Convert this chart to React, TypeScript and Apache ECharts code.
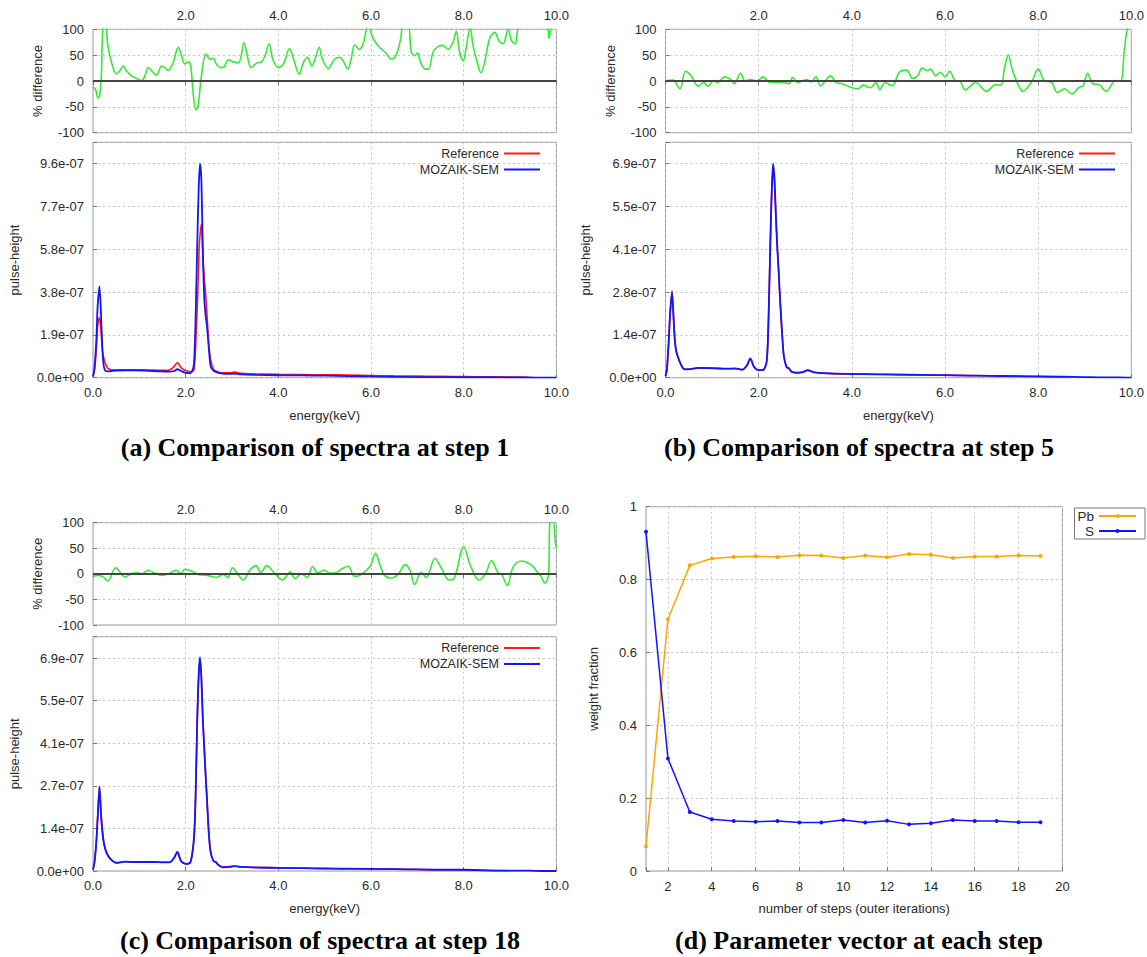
import React, { useEffect, useRef } from 'react';
import * as echarts from 'echarts';

// ---------- spectra (pulse-height in units of 1e-7) ----------
const energyKeV = [0, 0.03, 0.07, 0.1, 0.14, 0.17, 0.2, 0.23, 0.27, 0.32, 0.4, 0.5, 0.7, 0.9, 1.1, 1.3, 1.5, 1.65, 1.75, 1.82, 1.9, 2.0, 2.1, 2.17, 2.2, 2.22, 2.25, 2.27, 2.29, 2.31, 2.34, 2.37, 2.4, 2.43, 2.46, 2.5, 2.54, 2.6, 2.65, 2.7, 2.8, 2.95, 3.05, 3.2, 3.5, 4.0, 4.5, 5.0, 5.5, 6.0, 6.5, 7.0, 7.5, 8.0, 8.5, 9.0, 9.4, 9.7, 10.0];

const refStep1 = [0.05, 0.3, 1.2, 2.3, 2.7, 2.2, 1.3, 0.9, 0.62, 0.42, 0.36, 0.36, 0.36, 0.36, 0.35, 0.34, 0.33, 0.35, 0.5, 0.68, 0.45, 0.32, 0.27, 0.3, 0.8, 1.7, 3.2, 4.4, 5.8, 6.4, 6.9, 5.5, 4.5, 3.8, 2.8, 1.5, 0.8, 0.38, 0.3, 0.26, 0.22, 0.22, 0.25, 0.2, 0.17, 0.15, 0.14, 0.13, 0.12, 0.1, 0.08, 0.07, 0.06, 0.05, 0.04, 0.03, 0.02, null, null];
const mozStep1 = [0.05, 0.4, 1.6, 3.2, 4.1, 3.0, 1.4, 0.55, 0.3, 0.28, 0.3, 0.32, 0.33, 0.33, 0.32, 0.3, 0.28, 0.27, 0.3, 0.38, 0.3, 0.22, 0.2, 0.5, 1.6, 3.2, 6.0, 7.7, 9.0, 9.6, 8.8, 5.7, 3.6, 2.8, 2.3, 1.3, 0.5, 0.32, 0.26, 0.22, 0.18, 0.17, 0.18, 0.15, 0.13, 0.11, 0.1, 0.09, 0.07, 0.06, 0.04, 0.03, 0.03, 0.02, 0.02, 0.01, 0.01, 0.0, 0.0];

const refStep5 = [0.05, 0.25, 1.2, 2.1, 2.8, 2.05, 1.25, 0.88, 0.66, 0.47, 0.28, 0.28, 0.31, 0.31, 0.3, 0.29, 0.29, 0.26, 0.4, 0.62, 0.35, 0.24, 0.25, 0.5, 1.3, 2.4, 4.3, 5.5, 6.3, 6.7, 6.3, 5.2, 4.2, 3.4, 2.5, 1.5, 0.7, 0.34, 0.3, 0.2, 0.16, 0.18, 0.24, 0.17, 0.14, 0.12, 0.11, 0.1, 0.09, 0.08, 0.07, 0.06, 0.05, 0.04, 0.03, null, null, null, null];
const mozStep5 = [0.05, 0.25, 1.2, 2.1, 2.75, 2.0, 1.2, 0.85, 0.65, 0.46, 0.27, 0.27, 0.32, 0.31, 0.3, 0.29, 0.3, 0.26, 0.4, 0.62, 0.35, 0.24, 0.25, 0.5, 1.3, 2.4, 4.3, 5.5, 6.4, 6.9, 6.4, 5.2, 4.2, 3.4, 2.5, 1.5, 0.7, 0.34, 0.3, 0.2, 0.16, 0.18, 0.24, 0.17, 0.14, 0.12, 0.11, 0.1, 0.09, 0.08, 0.07, 0.06, 0.05, 0.04, 0.03, 0.02, 0.01, 0.01, 0.0];

const refStep18 = [0.05, 0.25, 0.9, 1.7, 2.72, 1.95, 1.35, 0.97, 0.7, 0.52, 0.36, 0.27, 0.3, 0.29, 0.29, 0.29, 0.28, 0.28, 0.42, 0.62, 0.32, 0.23, 0.27, 0.9, 1.7, 2.8, 4.9, 5.9, 6.5, 6.8, 6.2, 4.9, 4.0, 3.1, 2.3, 1.2, 0.6, 0.32, 0.29, 0.2, 0.13, 0.14, 0.16, 0.13, 0.12, 0.1, 0.09, 0.08, 0.08, 0.07, 0.06, 0.05, 0.04, 0.04, 0.02, 0.01, null, null, null];
const mozStep18 = [0.05, 0.25, 0.9, 1.7, 2.72, 1.9, 1.3, 0.93, 0.68, 0.5, 0.35, 0.26, 0.3, 0.29, 0.29, 0.29, 0.28, 0.28, 0.42, 0.62, 0.32, 0.23, 0.27, 0.9, 1.7, 2.8, 4.9, 5.9, 6.6, 6.9, 6.2, 4.9, 4.0, 3.1, 2.3, 1.2, 0.6, 0.32, 0.29, 0.2, 0.12, 0.13, 0.16, 0.13, 0.11, 0.1, 0.09, 0.08, 0.07, 0.07, 0.06, 0.05, 0.04, 0.04, 0.02, 0.01, 0.01, 0.0, 0.0];

// y-axis tick steps of the three spectra panels (units of 1e-7)
const specTickStep = [1.92, 1.38, 1.374];

// ---------- % difference ----------
const diffEnergyStep1 = [0, 0.05, 0.11, 0.144, 0.18, 0.216, 0.27, 0.32, 0.4, 0.5, 0.58, 0.65, 0.72, 0.83, 0.94, 1.05, 1.12, 1.19, 1.26, 1.37, 1.48, 1.55, 1.62, 1.73, 1.84, 1.91, 1.98, 2.06, 2.11, 2.16, 2.22, 2.27, 2.34, 2.44, 2.53, 2.6, 2.66, 2.74, 2.81, 2.92, 3.03, 3.14, 3.26, 3.33, 3.41, 3.54, 3.64, 3.71, 3.8, 3.88, 4.0, 4.11, 4.24, 4.33, 4.45, 4.54, 4.63, 4.72, 4.79, 4.88, 4.95, 5.08, 5.21, 5.33, 5.4, 5.5, 5.57, 5.65, 5.74, 5.83, 5.9, 5.95, 6.03, 6.16, 6.3, 6.44, 6.55, 6.64, 6.69, 6.8, 6.87, 6.94, 7.0, 7.07, 7.17, 7.24, 7.34, 7.45, 7.55, 7.66, 7.77, 7.84, 7.91, 7.99, 8.06, 8.14, 8.2, 8.3, 8.37, 8.45, 8.56, 8.67, 8.76, 8.85, 8.96, 9.03, 9.11, 9.2, 9.5, 9.8, 9.84, 9.9, 10.0];
const diffStep1 = [-13, -15, -33, -29, 10, 105, 110, 69, 36, 14, 20, 29, 20, 10, 5, 1, 10, 26, 20, 11, 29, 26, 20, 36, 65, 49, 33, 37, 29, -23, -56, -46, 10, 52, 42, 44, 33, 26, 26, 41, 37, 35, 74, 49, 26, 35, 37, 48, 72, 42, 26, 33, 63, 42, 13, 36, 46, 29, 42, 65, 42, 24, 42, 46, 39, 23, 42, 70, 61, 72, 100, 106, 85, 67, 56, 42, 52, 82, 105, 106, 56, 49, 54, 36, 23, 23, 56, 67, 69, 61, 75, 96, 56, 39, 69, 104, 69, 33, 16, 36, 82, 94, 78, 72, 100, 78, 72, 105, 110, 105, 83, 105, 110];

const diffEnergyStep5 = [0, 0.16, 0.31, 0.43, 0.55, 0.7, 0.82, 0.91, 1.04, 1.11, 1.27, 1.4, 1.48, 1.61, 1.71, 1.83, 1.95, 2.1, 2.22, 2.53, 2.65, 2.73, 2.83, 3.04, 3.12, 3.23, 3.33, 3.43, 3.54, 3.66, 3.78, 3.97, 4.13, 4.24, 4.4, 4.52, 4.6, 4.71, 4.87, 5.02, 5.18, 5.3, 5.41, 5.51, 5.61, 5.69, 5.8, 5.9, 6.0, 6.1, 6.23, 6.31, 6.43, 6.66, 6.89, 7.09, 7.2, 7.28, 7.36, 7.44, 7.55, 7.67, 7.86, 8.0, 8.14, 8.28, 8.41, 8.57, 8.72, 8.88, 8.96, 9.06, 9.17, 9.31, 9.46, 9.66, 9.77, 9.85, 9.91, 9.97, 10.0];
const diffStep5 = [1, 2, -15, 19, 10, -10, -3, -10, 1, -3, 8, 3, -5, 15, 0, 3, 0, 8, -2, -3, -5, 7, -3, 3, -2, 8, -10, 0, 10, -3, -5, -12, -15, -8, -13, -3, -17, -3, -9, 17, 21, 5, 10, 25, 20, 23, 10, 17, 8, 19, 0, 0, -17, -3, -20, -7, -8, 27, 50, 23, -3, -20, -1, 23, 0, -2, -22, -15, -25, -12, -10, 15, -5, -7, -20, 1, 0, 60, 100, 110, 115];

const diffEnergyStep18 = [0, 0.1, 0.2, 0.32, 0.49, 0.69, 0.85, 0.97, 1.04, 1.19, 1.32, 1.48, 1.63, 1.79, 1.89, 1.99, 2.14, 2.26, 2.46, 2.66, 2.81, 2.91, 3.01, 3.13, 3.24, 3.4, 3.52, 3.62, 3.75, 3.91, 4.09, 4.25, 4.36, 4.5, 4.62, 4.74, 4.85, 4.99, 5.13, 5.25, 5.37, 5.51, 5.64, 5.76, 5.92, 5.99, 6.1, 6.19, 6.29, 6.43, 6.58, 6.74, 6.84, 6.94, 7.08, 7.19, 7.38, 7.53, 7.68, 7.8, 8.0, 8.15, 8.33, 8.47, 8.6, 8.74, 8.82, 8.94, 9.07, 9.25, 9.41, 9.49, 9.59, 9.67, 9.75, 9.83, 9.86, 9.92, 9.98, 10.0];
const diffStep18 = [-5, -3, -5, -14, 12, -6, 1, 2, -1, 7, 2, -3, 0, 7, 1, 9, 5, -1, -3, -7, -1, -7, 12, -1, -12, 9, 16, 2, 16, 2, -12, 4, -9, 0, -7, 14, 2, 7, 1, 2, 10, 15, -5, -3, 9, 16, 40, 18, -3, -8, -1, 18, 7, -21, 3, -7, 30, 9, -12, -8, 53, 15, -12, 0, 26, 2, -1, -23, 14, 25, 20, 15, 3, -5, -18, -1, 105, 110, 60, 50];

// ---------- parameter vector ----------
const steps = [1, 2, 3, 4, 5, 6, 7, 8, 9, 10, 11, 12, 13, 14, 15, 16, 17, 18, 19];
const pbFraction = [0.067, 0.691, 0.839, 0.858, 0.862, 0.864, 0.862, 0.867, 0.866, 0.859, 0.866, 0.861, 0.87, 0.868, 0.859, 0.863, 0.863, 0.866, 0.865];
const sFraction = [0.931, 0.309, 0.162, 0.142, 0.137, 0.135, 0.137, 0.133, 0.133, 0.14, 0.133, 0.138, 0.128, 0.131, 0.14, 0.137, 0.137, 0.134, 0.134];

const captions = [
  '(a) Comparison of spectra at step 1',
  '(b) Comparison of spectra at step 5',
  '(c) Comparison of spectra at step 18',
  '(d) Parameter vector at each step',
];

const pair = (xs: number[], ys: (number | null)[]) => xs.map((x, i) => [x, ys[i]]);

const expLabel = (v: number) => {
  const s = (v * 1e-7).toExponential(1);
  const [m, e] = s.split('e');
  const sign = e[0] === '-' ? '-' : '+';
  const d = e.replace(/[+-]/, '').padStart(2, '0');
  return `${m}e${sign}${d}`;
};

const FONT = 'Liberation Sans, Arial, sans-serif';
const lbl = { color: '#2a2a2a', fontSize: 13, fontFamily: FONT };
const gridLine = { show: true, lineStyle: { color: '#c4c4c4', type: [2, 3] as any, width: 1 } };
const tick = { show: true, inside: true, length: 4, lineStyle: { color: '#777' } };

const RED = '#ff1a1a';
const BLUE = '#1414ff';
const GREEN = '#35ea35';
const ORANGE = '#ffa500';

export default function App() {
  const ref = useRef<HTMLDivElement>(null);

  useEffect(() => {
    if (!ref.current) return;
    const chart = echarts.init(ref.current, undefined, { renderer: 'svg' });

    const cols = [
      { left: 93, width: 463.4 },
      { left: 665.5, width: 467.2 },
      { left: 93, width: 463.4 },
    ];
    const rows = [
      { diffTop: 29.3, diffH: 103.4, specTop: 142.3, specH: 235.4 },
      { diffTop: 29.3, diffH: 103.4, specTop: 142.3, specH: 235.4 },
      { diffTop: 522.7, diffH: 102.3, specTop: 636.7, specH: 234.3 },
    ];

    const grids: any[] = [];
    const xAxes: any[] = [];
    const yAxes: any[] = [];
    const series: any[] = [];

    const diffSets = [
      [diffEnergyStep1, diffStep1],
      [diffEnergyStep5, diffStep5],
      [diffEnergyStep18, diffStep18],
    ];
    const specSets = [
      [refStep1, mozStep1],
      [refStep5, mozStep5],
      [refStep18, mozStep18],
    ];
    const pulseGap = [72, 74, 72];
    const diffGap = [49, 49, 49];

    for (let p = 0; p < 3; p++) {
      const c = cols[p];
      const r = rows[p];
      const gDiff = grids.length;
      grids.push({ left: c.left, width: c.width, top: r.diffTop, height: r.diffH, show: true, borderColor: '#999', borderWidth: 1 });
      xAxes.push({
        type: 'value', gridIndex: gDiff, position: 'top', min: 0, max: 10, interval: 2,
        axisLine: { show: false }, axisTick: tick,
        axisLabel: { ...lbl, margin: 7, formatter: (v: number) => (v === 0 ? '' : v.toFixed(1)) },
        splitLine: gridLine,
      });
      yAxes.push({
        type: 'value', gridIndex: gDiff, min: -100, max: 100, interval: 50,
        axisLine: { show: false }, axisTick: tick,
        axisLabel: { ...lbl, margin: 9 },
        splitLine: gridLine,
        name: '% difference', nameLocation: 'middle', nameGap: diffGap[p],
        nameTextStyle: { ...lbl },
      });
      series.push({
        type: 'line', name: 'diff' + p, xAxisIndex: gDiff, yAxisIndex: gDiff,
        data: pair(diffSets[p][0] as number[], diffSets[p][1] as number[]),
        symbol: 'none', smooth: 0.35, clip: true, silent: true,
        lineStyle: { color: GREEN, width: 1.6 },
        markLine: {
          silent: true, symbol: ['none', 'none'], label: { show: false },
          lineStyle: { color: '#444', width: 2, type: 'solid' },
          data: [{ yAxis: 0 }],
        },
        z: 3,
      });

      const gSpec = grids.length;
      const step = specTickStep[p];
      grids.push({ left: c.left, width: c.width, top: r.specTop, height: r.specH, show: true, borderColor: '#999', borderWidth: 1 });
      xAxes.push({
        type: 'value', gridIndex: gSpec, min: 0, max: 10, interval: 2,
        axisLine: { show: false }, axisTick: tick,
        axisLabel: { ...lbl, margin: 8, formatter: (v: number) => v.toFixed(1) },
        splitLine: gridLine,
        name: 'energy(keV)', nameLocation: 'middle', nameGap: 31,
        nameTextStyle: { ...lbl },
      });
      yAxes.push({
        type: 'value', gridIndex: gSpec, min: 0, max: step * 5.5, interval: step,
        axisLine: { show: false }, axisTick: tick,
        axisLabel: { ...lbl, margin: 9, formatter: (v: number) => (v > step * 5.01 ? '' : expLabel(v)) },
        splitLine: gridLine,
        name: 'pulse-height', nameLocation: 'middle', nameGap: pulseGap[p],
        nameTextStyle: { ...lbl },
      });
      series.push({
        type: 'line', name: 'Reference', xAxisIndex: gSpec, yAxisIndex: gSpec,
        data: pair(energyKeV, specSets[p][0]), symbol: 'none', smooth: 0.25, silent: true,
        lineStyle: { color: RED, width: 1.6 }, itemStyle: { color: RED }, z: 3,
      });
      series.push({
        type: 'line', name: 'MOZAIK-SEM', xAxisIndex: gSpec, yAxisIndex: gSpec,
        data: pair(energyKeV, specSets[p][1]), symbol: 'none', smooth: 0.25, silent: true,
        lineStyle: { color: BLUE, width: 1.8 }, itemStyle: { color: BLUE }, z: 4,
      });
    }

    // panel (d)
    const gD = grids.length;
    grids.push({ left: 646, width: 416.4, top: 506.7, height: 364.3, show: true, borderColor: '#999', borderWidth: 1 });
    xAxes.push({
      type: 'value', gridIndex: gD, min: 1, max: 20, splitNumber: 10,
      axisLine: { show: false }, axisTick: tick,
      axisLabel: { ...lbl, margin: 9, formatter: (v: number) => (v === 1 ? '' : String(v)) },
      splitLine: gridLine,
      name: 'number of steps (outer iterations)', nameLocation: 'middle', nameGap: 31,
      nameTextStyle: { ...lbl },
    });
    yAxes.push({
      type: 'value', gridIndex: gD, min: 0, max: 1, interval: 0.2,
      axisLine: { show: false }, axisTick: tick,
      axisLabel: { ...lbl, margin: 9 },
      splitLine: gridLine,
      name: 'weight fraction', nameLocation: 'middle', nameGap: 46,
      nameTextStyle: { ...lbl },
    });
    series.push({
      type: 'line', name: 'Pb', xAxisIndex: gD, yAxisIndex: gD,
      data: pair(steps, pbFraction), symbol: 'circle', symbolSize: 4, silent: true,
      lineStyle: { color: ORANGE, width: 1.5 }, itemStyle: { color: ORANGE },
    });
    series.push({
      type: 'line', name: 'S', xAxisIndex: gD, yAxisIndex: gD,
      data: pair(steps, sFraction), symbol: 'circle', symbolSize: 4, silent: true,
      lineStyle: { color: BLUE, width: 1.5 }, itemStyle: { color: BLUE },
    });

    const specLegend = (right: number, top: number) => ({
      data: ['Reference', 'MOZAIK-SEM'], orient: 'vertical', align: 'right',
      right, top, itemWidth: 36, itemHeight: 12, itemGap: 3, padding: 0,
      selectedMode: false, itemStyle: { opacity: 0 },
      textStyle: { ...lbl, fontSize: 12.5 },
    });

    const captionPos = [
      [315, 447], [859, 447], [320, 940], [859, 940],
    ];

    chart.setOption({
      animation: false,
      backgroundColor: '#ffffff',
      textStyle: { fontFamily: FONT },
      grid: grids,
      xAxis: xAxes,
      yAxis: yAxes,
      series,
      legend: [
        specLegend(606, 147),
        specLegend(31, 147),
        specLegend(606, 641.5),
        {
          data: ['Pb', 'S'], orient: 'vertical', align: 'right',
          right: 2, top: 508, itemWidth: 37, itemHeight: 5, itemGap: 1,
          padding: [1, 8, 1, 3], borderColor: '#777', borderWidth: 1,
          selectedMode: false, textStyle: { ...lbl, fontSize: 13.5 },
        },
      ],
      graphic: captions.map((t, i) => ({
        type: 'text', x: captionPos[i][0], y: captionPos[i][1], silent: true,
        style: {
          text: t, fill: '#000', font: 'bold 26px "Liberation Serif", "Times New Roman", serif',
          align: 'center', verticalAlign: 'middle',
        },
      })),
    });

    return () => chart.dispose();
  }, []);

  return (
    <div
      ref={ref}
      style={{ position: 'absolute', left: 0, top: 0, width: 1147, height: 957, background: '#fff' }}
    />
  );
}
